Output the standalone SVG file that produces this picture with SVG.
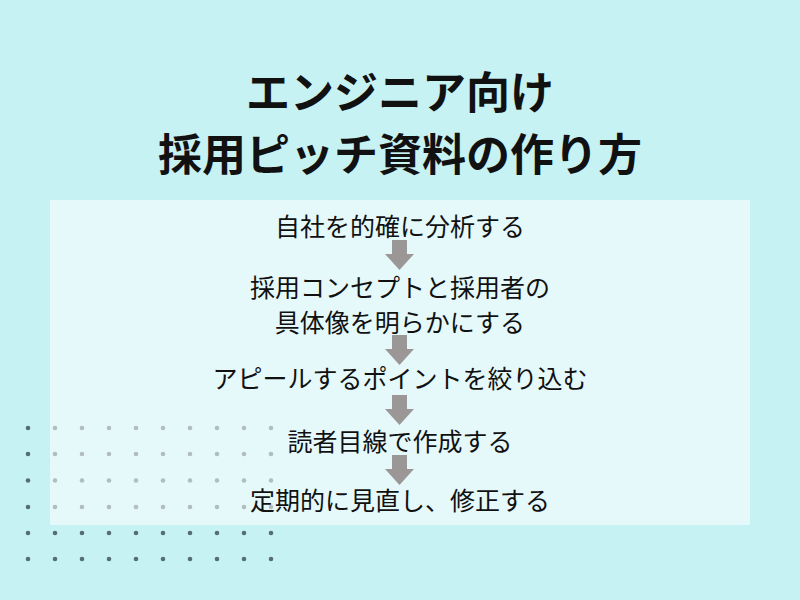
<svg xmlns="http://www.w3.org/2000/svg" width="800" height="600" viewBox="0 0 800 600">
<defs>
<style>
.t{font-family:"Noto Sans CJK JP","Noto Sans CJK SC",sans-serif;fill:#111;text-anchor:middle}
.title{font-weight:700;font-size:44px}
.b{font-size:25px;font-weight:400}
.dot{fill:#566e73}
.arr{fill:#9c9797}
</style>
<g id="dotc"><circle cx="0" cy="0" r="2.3" class="dot"/></g>
<g id="row">
<use href="#dotc" x="28"/><use href="#dotc" x="55"/><use href="#dotc" x="82"/><use href="#dotc" x="109"/><use href="#dotc" x="136"/><use href="#dotc" x="163"/><use href="#dotc" x="190"/><use href="#dotc" x="217"/><use href="#dotc" x="244"/><use href="#dotc" x="271"/>
</g>
<path id="arrow" d="M-7.5,0 H7.5 V14 H14.5 L0,30 L-14.5,14 H-7.5 Z" class="arr"/>
</defs>
<rect width="800" height="600" fill="#c7f2f3"/>
<g id="dots">
<use href="#row" y="428"/><use href="#row" y="454"/><use href="#row" y="480.5"/><use href="#row" y="507"/><use href="#row" y="533"/><use href="#row" y="559"/>
</g>
<rect id="panel" x="50" y="200" width="700" height="325" fill="#ffffff" fill-opacity="0.55"/>
<g id="title">
<text class="t title" x="400" y="109">エンジニア向け</text>
<text class="t title" x="400" y="171">採用ピッチ資料の作り方</text>
</g>
<g id="connectors">
<use href="#arrow" x="399.5" y="240"/>
<use href="#arrow" x="399.5" y="335"/>
<use href="#arrow" x="399.5" y="395"/>
<use href="#arrow" x="399.5" y="455"/>
</g>
<g id="step1"><text class="t b" x="400" y="235.5">自社を的確に分析する</text></g>
<g id="step2">
<text class="t b" x="400" y="296.5">採用コンセプトと採用者の</text>
<text class="t b" x="400" y="331.5">具体像を明らかにする</text>
</g>
<g id="step3"><text class="t b" x="400" y="387.5">アピールするポイントを絞り込む</text></g>
<g id="step4"><text class="t b" x="400" y="450.5">読者目線で作成する</text></g>
<g id="step5"><text class="t b" x="400" y="509.5">定期的に見直し、修正する</text></g>
</svg>
